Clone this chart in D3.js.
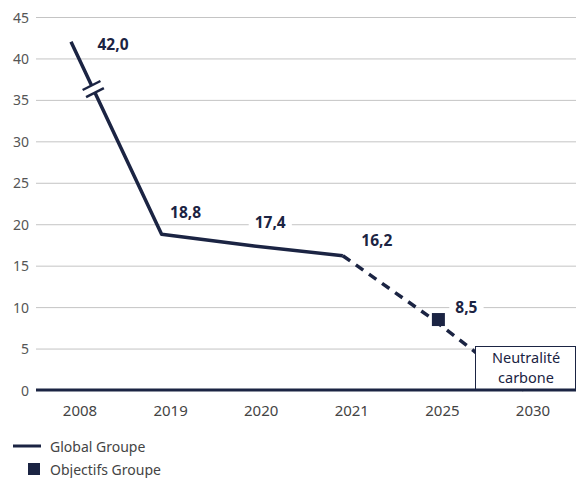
<!DOCTYPE html>
<html>
<head>
<meta charset="utf-8">
<script src="https://cdn.jsdelivr.net/npm/d3@7"></script>
<style>
    body { margin: 0; background: #fff; }
    svg { display: block; font-family: "Noto Sans", "Open Sans", sans-serif; }
</style>
</head>
<body>
<svg id="chart" width="576" height="478"></svg>
<script>
// Categories on the x axis
var years = ["2008", "2019", "2020", "2021", "2025", "2030"];

// Global Groupe (solid line)
var actualYears = ["2008", "2019", "2020", "2021"];
var actualValues = [42.0, 18.8, 17.4, 16.2];

// Objectifs Groupe (dashed line + square)
var targetYears = ["2021", "2025", "2030"];
var targetValues = [16.2, 8.5, 0];

// Value labels
var labelYears = ["2008", "2019", "2020", "2021", "2025"];
var labelValues = [42.0, 18.8, 17.4, 16.2, 8.5];
var labelTexts = ["42,0", "18,8", "17,4", "16,2", "8,5"];

var yTicks = [0, 5, 10, 15, 20, 25, 30, 35, 40, 45];

var navy = "#1b2443";

// label offsets from their point (layout only)
var labelOffsets = [[33, 8], [15, -16], [9, -18], [25, -10], [24, -7]];

var svg = d3.select("#chart");

var xScale = d3.scalePoint()
    .domain(years)
    .range([80, 533]);

var yScale = d3.scaleLinear()
    .domain([0, 45])
    .range([390, 17]);

var lineShift = -9;

// Gridlines
svg.append("g")
    .selectAll("line")
    .data(yTicks.filter(function(t) { return t > 0; }))
    .enter()
    .append("line")
        .attr("x1", 36)
        .attr("x2", 576)
        .attr("y1", function(t) { return yScale(t) + 0.5; })
        .attr("y2", function(t) { return yScale(t) + 0.5; })
        .attr("stroke", "#c4c4c4")
        .attr("stroke-width", 1);

// Y tick labels
svg.append("g")
    .selectAll("text")
    .data(yTicks)
    .enter()
    .append("text")
        .attr("x", 29)
        .attr("y", function(t) { return yScale(t) + 5.5; })
        .attr("text-anchor", "end")
        .attr("font-size", 14)
        .attr("fill", "#555")
        .text(function(t) { return t; });

// X axis labels
svg.append("g")
    .selectAll("text")
    .data(years)
    .enter()
    .append("text")
        .attr("x", function(d) { return xScale(d); })
        .attr("y", 416)
        .attr("text-anchor", "middle")
        .attr("font-size", 15)
        .attr("fill", "#444")
        .text(function(d) { return d; });

var line = d3.line()
    .x(function(d) { return xScale(d[0]) + lineShift; })
    .y(function(d) { return yScale(d[1]); });

// Dashed target line
svg.append("path")
    .datum(d3.zip(targetYears, targetValues))
    .attr("d", line)
    .attr("fill", "none")
    .attr("stroke", navy)
    .attr("stroke-width", 3.5)
    .attr("stroke-dasharray", "9,7");

// Solid actual line
svg.append("path")
    .datum(d3.zip(actualYears, actualValues))
    .attr("d", line)
    .attr("fill", "none")
    .attr("stroke", navy)
    .attr("stroke-width", 3.5)
    .attr("stroke-linejoin", "round");

// Axis break on the first segment
var p0 = [xScale(actualYears[0]) + lineShift, yScale(actualValues[0])];
var p1 = [xScale(actualYears[1]) + lineShift, yScale(actualValues[1])];
var t = (actualValues[0] - 36.3) / (actualValues[0] - actualValues[1]);
var bx = p0[0] + (p1[0] - p0[0]) * t;
var by = p0[1] + (p1[1] - p0[1]) * t;
var len = Math.hypot(p1[0] - p0[0], p1[1] - p0[1]);
var ux = (p1[0] - p0[0]) / len, uy = (p1[1] - p0[1]) / len;
var nx = 0.89, ny = -0.45;
var breakGroup = svg.append("g");
breakGroup.append("line")
    .attr("x1", bx - ux * 4).attr("y1", by - uy * 4)
    .attr("x2", bx + ux * 4).attr("y2", by + uy * 4)
    .attr("stroke", "#fff").attr("stroke-width", 6);
[-4, 4].forEach(function(s) {
    breakGroup.append("line")
        .attr("x1", bx + ux * s - nx * 10).attr("y1", by + uy * s - ny * 10)
        .attr("x2", bx + ux * s + nx * 10).attr("y2", by + uy * s + ny * 10)
        .attr("stroke", navy).attr("stroke-width", 2.5);
});

// Target square
svg.append("rect")
    .attr("x", xScale("2025") - 4 - 6.5)
    .attr("y", yScale(8.5) - 6.5)
    .attr("width", 13)
    .attr("height", 13)
    .attr("fill", navy);

// Neutralité carbone box
var box = svg.append("g");
box.append("rect")
    .attr("x", 475.5)
    .attr("y", 346.5)
    .attr("width", 100)
    .attr("height", yScale(0) - 346)
    .attr("fill", "#fff")
    .attr("stroke", navy)
    .attr("stroke-width", 1);
box.append("text")
    .attr("x", 526)
    .attr("y", 363)
    .attr("text-anchor", "middle")
    .attr("font-size", 14.5)
    .attr("fill", navy)
    .text("Neutralité");
box.append("text")
    .attr("x", 526)
    .attr("y", 383)
    .attr("text-anchor", "middle")
    .attr("font-size", 14.5)
    .attr("fill", navy)
    .text("carbone");

// X axis baseline
svg.append("line")
    .attr("x1", 36)
    .attr("x2", 576)
    .attr("y1", yScale(0))
    .attr("y2", yScale(0))
    .attr("stroke", navy)
    .attr("stroke-width", 3);

// Value labels with white background
labelTexts.forEach(function(txt, i) {
    var g = svg.append("g");
    var bg = g.append("rect").attr("fill", "#fff");
    var label = g.append("text")
        .attr("x", xScale(labelYears[i]) + labelOffsets[i][0])
        .attr("y", yScale(labelValues[i]) + labelOffsets[i][1])
        .attr("text-anchor", "middle")
        .attr("font-size", 15.5)
        .attr("font-weight", "bold")
        .attr("fill", navy)
        .text(txt);
    var bb = label.node().getBBox();
    bg.attr("x", bb.x - 6).attr("y", bb.y + 2)
        .attr("width", bb.width + 12).attr("height", bb.height - 4);
});

// Legend
var legend = svg.append("g");
legend.append("line")
    .attr("x1", 13).attr("x2", 41)
    .attr("y1", 446).attr("y2", 446)
    .attr("stroke", navy).attr("stroke-width", 3);
legend.append("text")
    .attr("x", 50).attr("y", 452)
    .attr("font-size", 14)
    .attr("fill", "#444")
    .text("Global Groupe");
legend.append("rect")
    .attr("x", 28).attr("y", 463)
    .attr("width", 12).attr("height", 12)
    .attr("fill", navy);
legend.append("text")
    .attr("x", 50).attr("y", 475)
    .attr("font-size", 14)
    .attr("fill", "#444")
    .text("Objectifs Groupe");
</script>
</body>
</html>
